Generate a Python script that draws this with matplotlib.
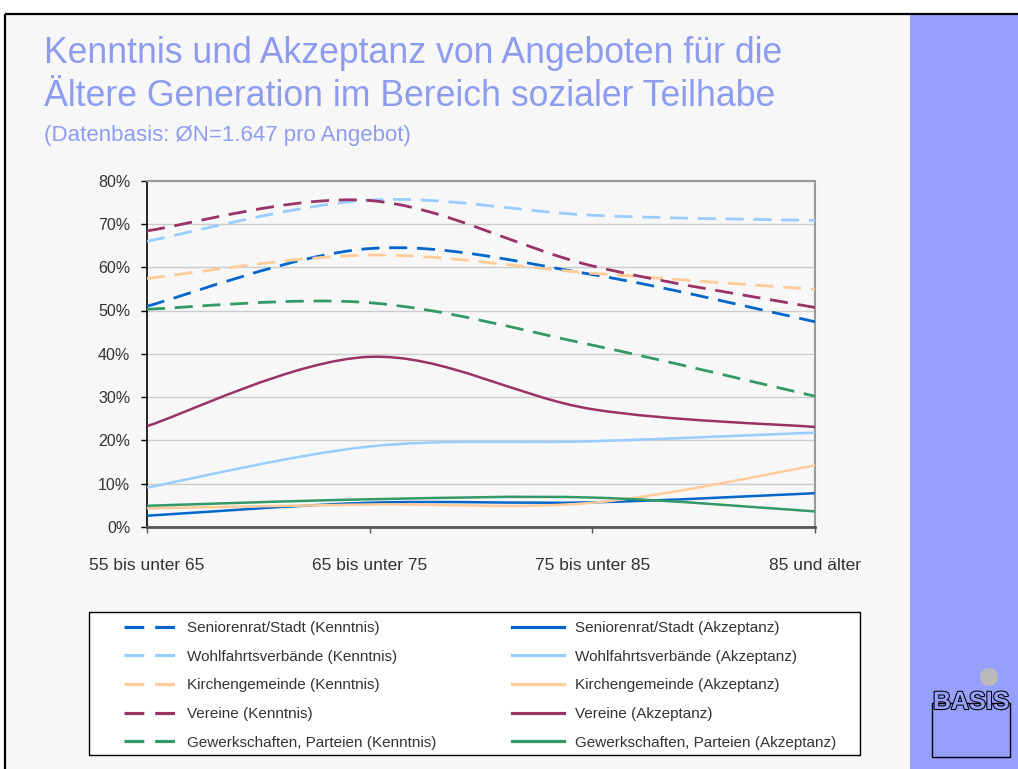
import numpy as np
import matplotlib
matplotlib.use("Agg")
import matplotlib.pyplot as plt
from matplotlib.path import Path
from matplotlib.patches import PathPatch, Rectangle, Circle
from matplotlib.lines import Line2D
import matplotlib.patheffects as pe

plt.rcParams['font.family'] = ['Liberation Sans', 'DejaVu Sans']

# data (values in %)
age_groups = ["55 bis unter 65", "65 bis unter 75", "75 bis unter 85", "85 und älter"]
series_names = ["Seniorenrat/Stadt", "Wohlfahrtsverbände", "Kirchengemeinde",
                "Vereine", "Gewerkschaften, Parteien"]
colors = ["#0066cc", "#99ccff", "#ffcc99", "#993366", "#339966"]

kenntnis = {
    "Seniorenrat/Stadt": [51.0, 64.3, 58.3, 47.4],
    "Wohlfahrtsverbände": [66.0, 75.5, 72.0, 70.8],
    "Kirchengemeinde": [57.4, 62.8, 58.6, 54.9],
    "Vereine": [68.4, 75.4, 60.3, 50.7],
    "Gewerkschaften, Parteien": [50.3, 51.8, 42.0, 30.2],
}
akzeptanz = {
    "Seniorenrat/Stadt": [2.6, 5.6, 5.7, 7.8],
    "Wohlfahrtsverbände": [9.1, 18.6, 19.8, 21.8],
    "Kirchengemeinde": [4.3, 5.2, 5.6, 14.2],
    "Vereine": [23.3, 39.3, 27.2, 23.1],
    "Gewerkschaften, Parteien": [4.9, 6.4, 6.8, 3.6],
}

title_lines = ["Kenntnis und Akzeptanz von Angeboten für die",
               "Ältere Generation im Bereich sozialer Teilhabe"]
subtitle = "(Datenbasis: ØN=1.647 pro Angebot)"


def smooth_path(xs, ys):
    # smoothed line like the office chart (cubic bezier through the points)
    pts = np.column_stack([xs, ys]).astype(float)
    ext = np.vstack([pts[0], pts, pts[-1]])
    verts = [pts[0]]
    codes = [Path.MOVETO]
    for i in range(len(pts) - 1):
        p0, p1, p2, p3 = ext[i], ext[i + 1], ext[i + 2], ext[i + 3]
        verts += [p1 + (p2 - p0) / 6, p2 - (p3 - p1) / 6, p2]
        codes += [Path.CURVE4] * 3
    return Path(verts, codes)


W, H = 1018, 769
fig = plt.figure(figsize=(W / 100, H / 100), dpi=100)
fig.patch.set_facecolor("white")

# background layer in pixel coordinates
bg = fig.add_axes([0, 0, 1, 1])
bg.set_xlim(0, W)
bg.set_ylim(H, 0)
bg.axis("off")
bg.add_patch(Rectangle((5, 14), W, H, facecolor="#f7f7f7", edgecolor="none"))
bg.add_patch(Rectangle((910, 14), W - 910, H, facecolor="#96a0ff", edgecolor="none"))
bg.plot([5, W], [14, 14], color="black", lw=1.6, solid_capstyle="butt")
bg.plot([5, 5], [14, H], color="black", lw=1.6, solid_capstyle="butt")

title_color = "#8e9cf0"
bg.text(44, 63, title_lines[0], fontsize=25.7, color=title_color, va="baseline")
bg.text(44, 106, title_lines[1], fontsize=25.7, color=title_color, va="baseline")
bg.text(44, 141, subtitle, fontsize=16, color=title_color, va="baseline")

# logo
stripe = "#96a0ff"
bg.add_patch(Circle((989, 677), 9, facecolor="#b9b9b9", edgecolor="none"))
bg.add_patch(Rectangle((932, 703), 78, 54, facecolor="none", edgecolor="black", lw=1))
bg.text(971, 709, "BASIS", fontsize=18, fontweight="bold", ha="center", va="baseline",
        color=stripe, path_effects=[pe.withStroke(linewidth=1.5, foreground="black")])

# chart
x0, x1, yt, yb = 147, 815, 180.6, 527
ax = fig.add_axes([x0 / W, 1 - yb / H, (x1 - x0) / W, (yb - yt) / H])
ax.set_facecolor("none")
ax.set_xlim(0, 3)
ax.set_ylim(0, 80)
xs = np.arange(len(age_groups))

handles_k, handles_a = [], []
for name, c in zip(series_names, colors):
    pk = PathPatch(smooth_path(xs, kenntnis[name]), facecolor="none", edgecolor=c,
                   lw=2.0, linestyle=(0, (6.5, 3.5)), capstyle="butt", zorder=3)
    ax.add_patch(pk)
    pa = PathPatch(smooth_path(xs, akzeptanz[name]), facecolor="none", edgecolor=c,
                   lw=1.8, zorder=3)
    ax.add_patch(pa)
    handles_k.append(Line2D([], [], color=c, lw=2.3, dashes=(6.2, 3.4),
                            dash_capstyle="butt", label=name + " (Kenntnis)"))
    handles_a.append(Line2D([], [], color=c, lw=2.3, label=name + " (Akzeptanz)"))

ax.set_yticks(np.arange(0, 81, 10))
ax.set_yticklabels([f"{v}%" for v in range(0, 81, 10)])
ax.set_xticks(xs)
ax.set_xticklabels(age_groups)
ax.yaxis.grid(True, color="#cccccc", lw=1)
ax.set_axisbelow(True)
ax.tick_params(axis="y", direction="out", length=4, width=1, color="black",
               labelsize=11.5, labelcolor="#333333", pad=8)
ax.tick_params(axis="x", direction="out", length=4, width=1, color="#555555",
               labelsize=12.5, labelcolor="#333333", pad=18)
ax.spines["left"].set_color("black")
ax.spines["left"].set_linewidth(1.2)
ax.spines["bottom"].set_color("#555555")
ax.spines["bottom"].set_linewidth(2)
for s in ("top", "right"):
    ax.spines[s].set_color("#999999")
    ax.spines[s].set_linewidth(1.5)

# legend
bg.add_patch(Rectangle((89, 611.5), 771, 143.5, facecolor="white", edgecolor="black", lw=1))
leg = bg.legend(handles=handles_k + handles_a, ncol=2, loc="upper left",
                bbox_to_anchor=(124, 621), bbox_transform=bg.transData,
                frameon=False, fontsize=11, borderpad=0, borderaxespad=0,
                handlelength=3.4, handletextpad=0.75, labelspacing=0.96,
                columnspacing=4.9, labelcolor="#333333")

fig.savefig("out.png", dpi=100)
